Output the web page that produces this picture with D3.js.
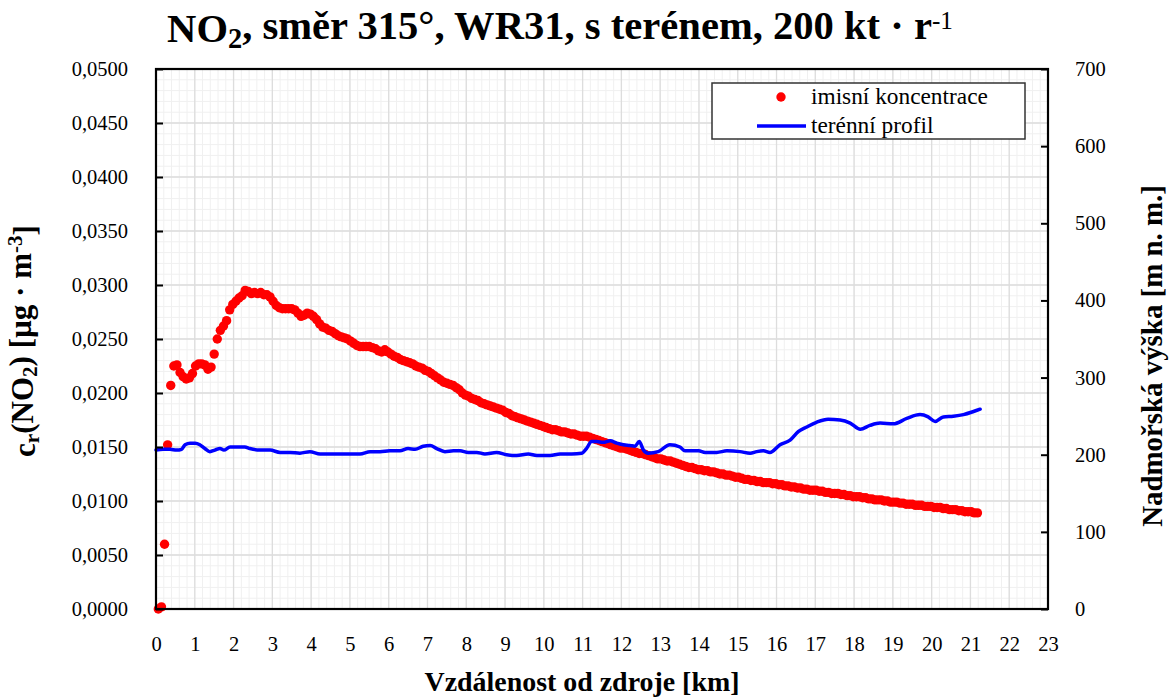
<!DOCTYPE html>
<html>
<head>
<meta charset="utf-8">
<script src="https://cdn.jsdelivr.net/npm/d3@7"></script>
<style>
  body { margin: 0; background: #fff; }
  svg { display: block; }
</style>
</head>
<body>
<svg id="chart" width="1169" height="698"></svg>
<script>
// Concentration samples: regular distance grid starting at 0.06 km, step 0.08 km
const concStartKm = 0.06;
const concStepKm = 0.08;
const concentration = [
  0.0000, 0.0002, 0.0060, 0.0152, 0.0207, 0.0225, 0.0226, 0.0219, 0.0215, 0.0213,
  0.0214, 0.0218, 0.0225, 0.0227, 0.0227, 0.0226, 0.0222, 0.0224, 0.0236, 0.0250,
  0.0258, 0.0262, 0.0267, 0.0277, 0.0282, 0.0285, 0.0288, 0.0290, 0.0295, 0.0294,
  0.0292, 0.0293, 0.0292, 0.0293, 0.0291, 0.0291, 0.0289, 0.0285, 0.0281, 0.0279,
  0.0278, 0.0278, 0.0278, 0.0278, 0.0277, 0.0274, 0.0271, 0.0272, 0.0274, 0.0273,
  0.0271, 0.0268, 0.0264, 0.0261, 0.0260, 0.0258, 0.0257, 0.0255, 0.0253, 0.0252,
  0.0251, 0.0250, 0.0248, 0.0246, 0.0244, 0.0243, 0.0243, 0.0243, 0.0243, 0.0242,
  0.0241, 0.0239, 0.0238, 0.0240, 0.0238, 0.0236, 0.0234, 0.0233, 0.0231, 0.0230,
  0.0229, 0.0228, 0.0227, 0.0225, 0.0224, 0.0223, 0.0221, 0.0220, 0.0218, 0.0216,
  0.0214, 0.0212, 0.0210, 0.0209, 0.0208, 0.0207, 0.0205, 0.0203, 0.0200, 0.0198,
  0.0197, 0.0195, 0.0194, 0.0193, 0.0191, 0.0190, 0.0189, 0.0188, 0.0187, 0.0186,
  0.0185, 0.0184, 0.0182, 0.0181, 0.0179, 0.0178, 0.0177, 0.0176, 0.0175, 0.0174,
  0.0173, 0.0172, 0.0171, 0.0170, 0.0169, 0.0168, 0.0167, 0.0166, 0.0166, 0.0165,
  0.0164, 0.0164, 0.0163, 0.0162, 0.0162, 0.0161, 0.0160, 0.0160, 0.0160, 0.0159,
  0.0158, 0.0157, 0.0156, 0.0155, 0.0154, 0.0153, 0.0152, 0.0151, 0.0150, 0.0149,
  0.0149, 0.0148, 0.0147, 0.0146, 0.0145, 0.0144, 0.0144, 0.0143, 0.0142, 0.0141,
  0.0140, 0.0139, 0.0139, 0.0138, 0.0137, 0.0137, 0.0136, 0.0135, 0.0134, 0.0133,
  0.0132, 0.0131, 0.0131, 0.0130, 0.0129, 0.0129, 0.0128, 0.0128, 0.0127, 0.0127,
  0.0126, 0.0125, 0.0125, 0.0124, 0.0124, 0.0123, 0.0122, 0.0122, 0.0121, 0.0120,
  0.0120, 0.0119, 0.0119, 0.0118, 0.0118, 0.0117, 0.0117, 0.0117, 0.0116, 0.0116,
  0.0115, 0.0115, 0.0114, 0.0114, 0.0113, 0.0113, 0.0112, 0.0112, 0.0111, 0.0111,
  0.0110, 0.0110, 0.0110, 0.0109, 0.0109, 0.0108, 0.0108, 0.0107, 0.0107, 0.0107,
  0.0106, 0.0106, 0.0105, 0.0105, 0.0104, 0.0104, 0.0104, 0.0103, 0.0103, 0.0102,
  0.0102, 0.0101, 0.0101, 0.0101, 0.0100, 0.0100, 0.0099, 0.0099, 0.0099, 0.0098,
  0.0098, 0.0097, 0.0097, 0.0097, 0.0096, 0.0096, 0.0096, 0.0095, 0.0095, 0.0095,
  0.0094, 0.0094, 0.0094, 0.0093, 0.0093, 0.0092, 0.0092, 0.0092, 0.0091, 0.0091,
  0.0090, 0.0090, 0.0090, 0.0089, 0.0089
];

// Terrain profile along the same direction
const terrainKm = [
  0.00, 0.19, 0.36, 0.53, 0.66, 0.75, 0.88, 1.01, 1.13, 1.26,
  1.39, 1.52, 1.65, 1.75, 1.91, 2.08, 2.29, 2.42, 2.68, 2.94,
  3.20, 3.46, 3.71, 3.97, 4.23, 4.66, 5.00, 5.26, 5.52, 5.78,
  6.03, 6.29, 6.50, 6.68, 6.89, 7.07, 7.24, 7.45, 7.67, 7.84,
  8.05, 8.27, 8.48, 8.78, 9.04, 9.30, 9.60, 9.82, 10.16, 10.42,
  10.72, 10.98, 11.10, 11.23, 11.36, 11.53, 11.71, 11.88, 12.05, 12.22,
  12.35, 12.46, 12.57, 12.69, 12.95, 13.25, 13.51, 13.64, 13.99, 14.16,
  14.46, 14.72, 15.06, 15.32, 15.49, 15.66, 15.83, 16.09, 16.35, 16.56,
  16.78, 17.03, 17.33, 17.64, 17.90, 18.16, 18.41, 18.67, 19.01, 19.36,
  19.70, 19.91, 20.09, 20.30, 20.56, 20.82, 21.08, 21.25
];
const terrainElev = [
  206, 207, 207, 206, 207, 213, 215, 215, 213, 208,
  204, 206, 208, 206, 210, 210, 210, 208, 206, 206,
  203, 203, 202, 204, 201, 201, 201, 201, 204, 204,
  205, 205, 208, 207, 211, 212, 208, 204, 205, 205,
  203, 203, 201, 203, 200, 199, 201, 199, 199, 201,
  201, 202, 208, 217, 217, 216, 218, 215, 213, 212,
  211, 217, 206, 202, 204, 213, 210, 205, 205, 203,
  203, 205, 204, 202, 204, 205, 203, 213, 219, 230,
  236, 242, 246, 245, 241, 233, 238, 241, 240, 247,
  252, 249, 243, 249, 250, 252, 256, 259
];

const xTickValues = d3.range(0, 24, 1);
const leftTickValues = [0, 0.005, 0.010, 0.015, 0.020, 0.025, 0.030, 0.035, 0.040, 0.045, 0.050];
const rightTickValues = [0, 100, 200, 300, 400, 500, 600, 700];
const legendLabels = ["imisní koncentrace", "terénní profil"];

const FONT = '"Liberation Serif", "Times New Roman", serif';
const svg = d3.select("#chart");
const plot = { left: 156, right: 1048, top: 69, bottom: 609 };

const x = d3.scaleLinear().domain([0, 23]).range([plot.left, plot.right]);
const yL = d3.scaleLinear().domain([0, 0.05]).range([plot.bottom, plot.top]);
const yR = d3.scaleLinear().domain([0, 700]).range([plot.bottom, plot.top]);

// Scale a text element's font size so that it spans the given width
function fitWidth(sel, width) {
  const base = parseFloat(sel.attr("font-size"));
  const w = sel.node().getComputedTextLength();
  if (w > 0) sel.attr("font-size", base * width / w);
  return sel;
}

// Grid: minor (0.2 km / 0.001) then major (1 km / 0.005)
const grid = svg.append("g");
grid.append("g").selectAll("line").data(d3.range(0, 23.0001, 0.2)).join("line")
  .attr("x1", d => x(d)).attr("x2", d => x(d))
  .attr("y1", plot.top).attr("y2", plot.bottom)
  .attr("stroke", "#f0f0f0").attr("stroke-width", 1);
grid.append("g").selectAll("line").data(d3.range(0, 0.05001, 0.001)).join("line")
  .attr("x1", plot.left).attr("x2", plot.right)
  .attr("y1", d => yL(d)).attr("y2", d => yL(d))
  .attr("stroke", "#f0f0f0").attr("stroke-width", 1);
grid.append("g").selectAll("line").data(xTickValues).join("line")
  .attr("x1", d => x(d)).attr("x2", d => x(d))
  .attr("y1", plot.top).attr("y2", plot.bottom)
  .attr("stroke", "#dddddd").attr("stroke-width", 1.3);
grid.append("g").selectAll("line").data(leftTickValues).join("line")
  .attr("x1", plot.left).attr("x2", plot.right)
  .attr("y1", d => yL(d)).attr("y2", d => yL(d))
  .attr("stroke", "#dddddd").attr("stroke-width", 1.3);

// Concentration dots
const concData = concentration.map((v, i) => ({ km: concStartKm + i * concStepKm, v }));
svg.append("g").selectAll("circle").data(concData).join("circle")
  .attr("cx", d => x(d.km)).attr("cy", d => yL(d.v))
  .attr("r", 4.7).attr("fill", "#ff0000");

// Terrain line
const terrainData = terrainKm.map((k, i) => ({ km: k, h: terrainElev[i] }));
svg.append("path").datum(terrainData)
  .attr("fill", "none").attr("stroke", "#0000ff").attr("stroke-width", 3.5)
  .attr("stroke-linejoin", "round").attr("stroke-linecap", "round")
  .attr("d", d3.line().x(d => x(d.km)).y(d => yR(d.h)).curve(d3.curveMonotoneX));

// Axes
const fmtLeft = d => d3.format(".4f")(d).replace(".", ",");
const axisLeft = d3.axisLeft(yL).tickValues(leftTickValues).tickFormat(fmtLeft).tickSizeInner(-7).tickSizeOuter(0).tickPadding(28);
const axisRight = d3.axisRight(yR).tickValues(rightTickValues).tickFormat(d3.format("d")).tickSizeInner(-7).tickSizeOuter(0).tickPadding(27);
const axisBottom = d3.axisBottom(x).tickValues(xTickValues).tickFormat(d3.format("d")).tickSizeInner(0).tickSizeOuter(0).tickPadding(27);

function styleAxis(g) {
  g.attr("font-family", null).attr("font-size", null);
  g.select(".domain").remove();
  g.selectAll(".tick line").attr("stroke", "#000").attr("stroke-width", 2);
  g.selectAll(".tick text").style("font-family", FONT).attr("font-size", 20.5).attr("fill", "#000");
}
svg.append("g").attr("transform", `translate(${plot.left},0)`).call(axisLeft).call(styleAxis);
svg.append("g").attr("transform", `translate(${plot.right},0)`).call(axisRight).call(styleAxis);
svg.append("g").attr("transform", `translate(0,${plot.bottom})`).call(axisBottom).call(styleAxis);

// Frame
svg.append("rect")
  .attr("x", plot.left).attr("y", plot.top)
  .attr("width", plot.right - plot.left).attr("height", plot.bottom - plot.top)
  .attr("fill", "none").attr("stroke", "#000").attr("stroke-width", 2.2);

// Title
const title = svg.append("text").attr("x", 560).attr("y", 42)
  .attr("text-anchor", "middle").attr("font-size", 31).attr("font-weight", "bold")
  .style("font-family", FONT);
title.append("tspan").text("NO");
title.append("tspan").attr("dy", "0.22em").attr("font-size", "0.7em").text("2");
title.append("tspan").attr("dy", "-0.22em").text(", směr 315°, WR31, s terénem, 200 kt · r");
title.append("tspan").attr("dy", "-0.4em").attr("font-size", "0.62em").attr("font-weight", "normal").text("-1");
fitWidth(title, 786);

// Axis titles
const xt = svg.append("text").attr("x", 582).attr("y", 691)
  .attr("text-anchor", "middle").attr("font-size", 25).attr("font-weight", "bold")
  .style("font-family", FONT)
  .text("Vzdálenost od zdroje [km]");
fitWidth(xt, 315);

const yl = svg.append("text")
  .attr("transform", "translate(35,341) rotate(-90)")
  .attr("text-anchor", "middle").attr("font-size", 31).attr("font-weight", "bold")
  .style("font-family", FONT);
yl.append("tspan").text("c");
yl.append("tspan").attr("dy", "0.2em").attr("font-size", "0.68em").text("r");
yl.append("tspan").attr("dy", "-0.2em").text("(NO");
yl.append("tspan").attr("dy", "0.2em").attr("font-size", "0.68em").text("2");
yl.append("tspan").attr("dy", "-0.2em").text(") [µg · m");
yl.append("tspan").attr("dy", "-0.42em").attr("font-size", "0.68em").text("-3");
yl.append("tspan").attr("dy", "0.42em").text("]");

const yr = svg.append("text")
  .attr("transform", "translate(1162,356) rotate(-90)")
  .attr("text-anchor", "middle").attr("font-size", 24).attr("font-weight", "bold")
  .style("font-family", FONT)
  .text("Nadmořská výška [m n. m.]");
fitWidth(yr, 342);

// Legend
const lg = svg.append("g");
lg.append("rect").attr("x", 712).attr("y", 83).attr("width", 313).attr("height", 56)
  .attr("fill", "#fff").attr("stroke", "#333").attr("stroke-width", 1.5);
lg.append("circle").attr("cx", 781).attr("cy", 97).attr("r", 4.7).attr("fill", "#ff0000");
lg.append("line").attr("x1", 757).attr("x2", 806).attr("y1", 126).attr("y2", 126)
  .attr("stroke", "#0000ff").attr("stroke-width", 3.5);
const lt1 = lg.append("text").attr("x", 811).attr("y", 104).attr("font-size", 21)
  .style("font-family", FONT).text(legendLabels[0]);
fitWidth(lt1, 177);
lg.append("text").attr("x", 811).attr("y", 133).attr("font-size", lt1.attr("font-size"))
  .style("font-family", FONT).text(legendLabels[1]);
</script>
</body>
</html>
